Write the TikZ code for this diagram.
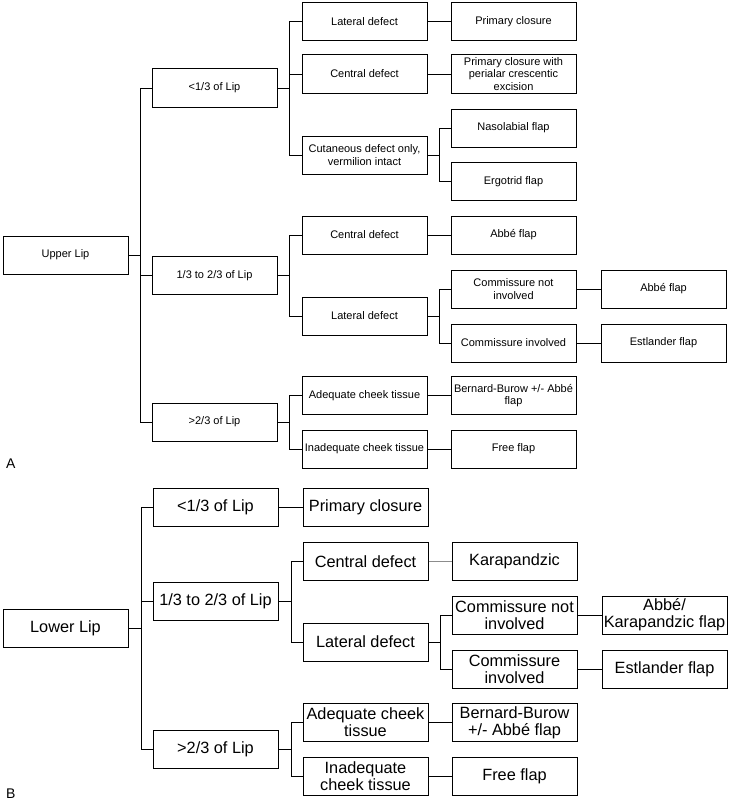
\documentclass[tikz,border=0pt]{standalone}
\usepackage{fontspec}
\setmainfont{Liberation Sans}
\usetikzlibrary{shadows}
\newcommand\fsa{\fontsize{11}{12.5}\selectfont}
\newcommand\fsb{\fontsize{16.3}{17}\selectfont}
\tikzset{
  box/.style={draw=black, line width=1pt, fill=white, minimum width=125, minimum height=38,
    inner sep=0pt, align=center,
    drop shadow={shadow xshift=0.9pt, shadow yshift=-0.9pt, fill=black, opacity=0.25}},
  boxa/.style={box, font=\fsa},
  boxb/.style={box, font=\fsb},
  conn/.style={draw=black, line width=1pt},
  thinconn/.style={draw=black!45, line width=0.6pt},
  panel/.style={font=\fontsize{14}{16}\selectfont, inner sep=0pt}
}
\begin{document}
\begin{tikzpicture}[x=1pt, y=-1pt]
\useasboundingbox (0,0) rectangle (729,800);
% ---------- Panel A ----------
\node[boxa] (upA) at (65.5,255) {Upper Lip};
\node[boxa] (A1) at (214.5,88) {<1/3 of Lip};
\node[boxa] (A2) at (214.5,275.5) {1/3 to 2/3 of Lip};
\node[boxa] (A3) at (214.5,422) {>2/3 of Lip};
\node[boxa] (a11) at (364.5,21.5) {Lateral defect};
\node[boxa] (a12) at (364.5,74) {Central defect};
\node[boxa] (a13) at (364.5,155) {Cutaneous defect only,\\vermilion intact};
\node[boxa] (a111) at (513.5,21.5) {Primary closure};
\node[boxa] (a121) at (513.5,74) {Primary closure with\\perialar crescentic\\excision};
\node[boxa] (a131) at (513.5,128) {Nasolabial flap};
\node[boxa] (a132) at (513.5,181.5) {Ergotrid flap};
\node[boxa] (a21) at (364.5,235) {Central defect};
\node[boxa] (a211) at (513.5,235) {Abbé flap};
\node[boxa] (a22) at (364.5,316) {Lateral defect};
\node[boxa] (a221) at (513.5,289) {Commissure not\\involved};
\node[boxa] (a222) at (513.5,343) {Commissure involved};
\node[boxa] (a2211) at (663.5,289) {Abbé flap};
\node[boxa] (a2221) at (663.5,343) {Estlander flap};
\node[boxa] (a31) at (364.5,395.5) {Adequate cheek tissue};
\node[boxa] (a311) at (513.5,395.5) {Bernard-Burow +/- Abbé\\flap};
\node[boxa] (a32) at (364.5,449) {Inadequate cheek tissue};
\node[boxa] (a321) at (513.5,449) {Free flap};
\node[panel, anchor=base west] (labA) at (6,468) {A};

\foreach \c in {A1,A2,A3} \draw[conn] (upA.east) -- ++(12,0) |- (\c.west);
\foreach \c in {a11,a12,a13} \draw[conn] (A1.east) -- ++(12,0) |- (\c.west);
\foreach \c in {a21,a22} \draw[conn] (A2.east) -- ++(12,0) |- (\c.west);
\foreach \c in {a31,a32} \draw[conn] (A3.east) -- ++(12,0) |- (\c.west);
\foreach \c in {a131,a132} \draw[conn] (a13.east) -- ++(12,0) |- (\c.west);
\foreach \c in {a221,a222} \draw[conn] (a22.east) -- ++(12,0) |- (\c.west);
\draw[conn] (a11) -- (a111);
\draw[conn] (a12) -- (a121);
\draw[conn] (a21) -- (a211);
\draw[conn] (a221) -- (a2211);
\draw[conn] (a222) -- (a2221);
\draw[conn] (a31) -- (a311);
\draw[conn] (a32) -- (a321);

% ---------- Panel B ----------
\node[boxb] (loB) at (65.5,628) {Lower Lip};
\node[boxb] (B1) at (215.5,507.5) {<1/3 of Lip};
\node[boxb] (B2) at (215.5,601.5) {1/3 to 2/3 of Lip};
\node[boxb] (B3) at (215.5,749) {>2/3 of Lip};
\node[boxb] (b11) at (365.5,507.5) {Primary closure};
\node[boxb] (b21) at (365.5,561.5) {Central defect};
\node[boxb] (b211) at (514.5,561.5) {Karapandzic};
\node[boxb] (b22) at (365.5,642) {Lateral defect};
\node[boxb] (b221) at (514.5,615) {Commissure not\\involved};
\node[boxb] (b222) at (514.5,669) {Commissure\\involved};
\node[boxb] (b2211) at (664.5,615) {Abbé/\\Karapandzic flap};
\node[boxb] (b2221) at (664.5,669) {Estlander flap};
\node[boxb] (b31) at (365.5,722.5) {Adequate cheek\\tissue};
\node[boxb] (b311) at (514.5,722.5) {Bernard-Burow\\+/- Abbé flap};
\node[boxb] (b32) at (365.5,776) {Inadequate\\cheek tissue};
\node[boxb] (b321) at (514.5,776) {Free flap};
\node[panel, anchor=base west] (labB) at (6,798) {B};

\foreach \c in {B1,B2,B3} \draw[conn] (loB.east) -- ++(13,0) |- (\c.west);
\foreach \c in {b21,b22} \draw[conn] (B2.east) -- ++(13,0) |- (\c.west);
\foreach \c in {b31,b32} \draw[conn] (B3.east) -- ++(13,0) |- (\c.west);
\foreach \c in {b221,b222} \draw[conn] (b22.east) -- ++(12,0) |- (\c.west);
\draw[conn] (B1) -- (b11);
\draw[thinconn] (b21) -- (b211);
\draw[conn] (b221) -- (b2211);
\draw[conn] (b222) -- (b2221);
\draw[conn] (b31) -- (b311);
\draw[conn] (b32) -- (b321);
\end{tikzpicture}
\end{document}
